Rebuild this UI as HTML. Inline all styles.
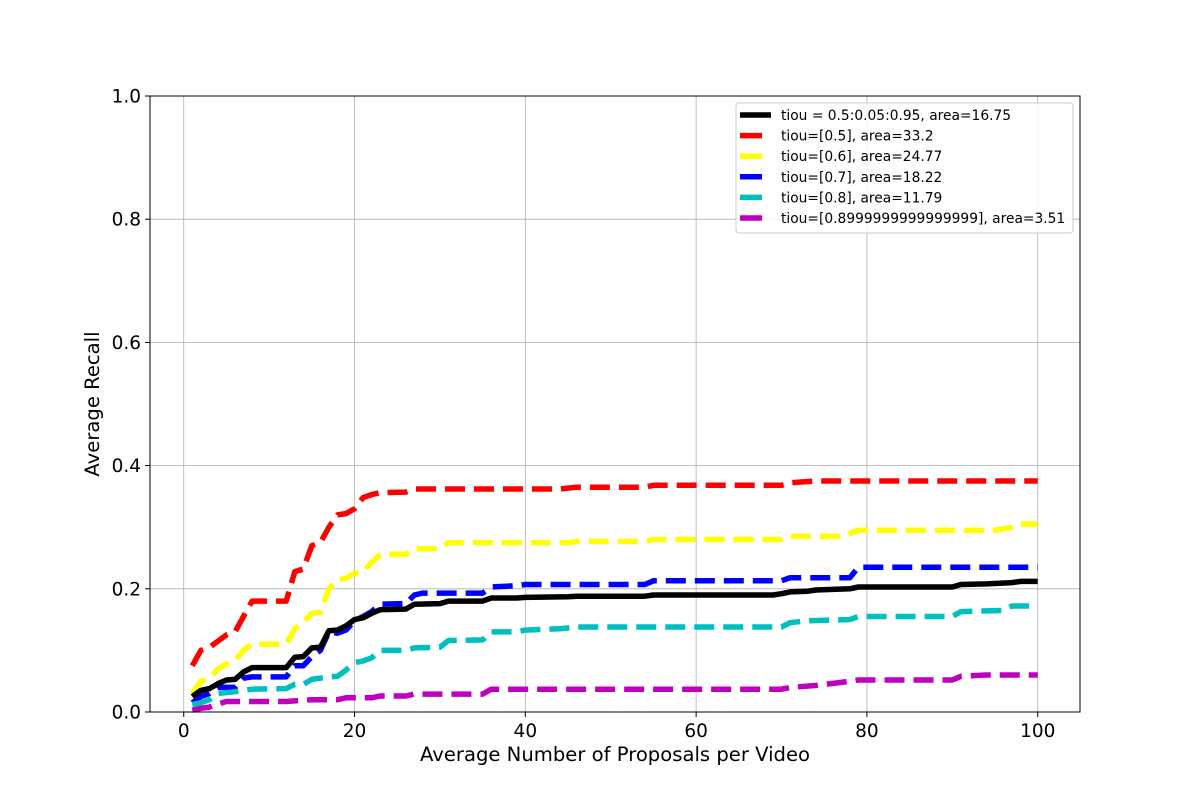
<!DOCTYPE html>
<html><head><meta charset="utf-8"><style>
html,body{margin:0;padding:0;background:#fff;}
svg{display:block;font-family:"DejaVu Sans","Liberation Sans",sans-serif;}
</style></head><body>
<svg id="chart" width="1200" height="800" viewBox="0 0 1200 800" xmlns="http://www.w3.org/2000/svg"></svg>
<script>
const xTicks=[0,20,40,60,80,100];
const yTicks=[0,0.2,0.4,0.6,0.8,1.0];
const yTickLabels=["0.0","0.2","0.4","0.6","0.8","1.0"];
const seriesNames=["tiou = 0.5:0.05:0.95, area=16.75","tiou=[0.5], area=33.2","tiou=[0.6], area=24.77","tiou=[0.7], area=18.22","tiou=[0.8], area=11.79","tiou=[0.8999999999999999], area=3.51"];
const blackX=[1,2,3,4,5,6,7,8,12,13,14,15,16,17,18,19,20,21,22,23,26,27,30,31,35,36,39,40,45,46,54,55,69,70,71,73,74,78,79,90,91,94,97,98,100];
const blackY=[0.025,0.035,0.038,0.046,0.052,0.053,0.065,0.072,0.072,0.089,0.09,0.104,0.105,0.132,0.133,0.14,0.15,0.153,0.16,0.166,0.167,0.175,0.176,0.18,0.18,0.185,0.185,0.186,0.187,0.188,0.188,0.19,0.19,0.192,0.195,0.196,0.198,0.2,0.203,0.203,0.207,0.208,0.21,0.212,0.212];
const redX=[1,2,3,4,5,6,7,8,12,13,14,15,16,17,18,19,20,21,22,23,26,27,44,46,54,55,70,71,74,100];
const redY=[0.075,0.1,0.105,0.115,0.125,0.13,0.155,0.18,0.18,0.228,0.232,0.27,0.275,0.3,0.32,0.322,0.33,0.348,0.353,0.356,0.357,0.362,0.362,0.365,0.365,0.368,0.368,0.372,0.375,0.375];
const yellowX=[1,2,3,4,5,6,7,8,12,13,14,15,16,17,18,19,20,21,22,23,26,27,30,31,45,46,54,55,70,71,77,78,79,95,97,98,100];
const yellowY=[0.03,0.05,0.055,0.07,0.078,0.083,0.1,0.11,0.11,0.135,0.145,0.16,0.162,0.2,0.215,0.217,0.225,0.228,0.243,0.255,0.256,0.265,0.265,0.275,0.275,0.277,0.277,0.28,0.28,0.285,0.285,0.29,0.295,0.295,0.3,0.305,0.305];
const blueX=[1,2,3,4,6,7,8,12,13,14,15,16,17,18,19,20,21,22,23,26,27,28,35,36,39,40,54,55,70,71,78,79,100];
const blueY=[0.015,0.025,0.03,0.04,0.04,0.055,0.057,0.057,0.075,0.075,0.09,0.1,0.13,0.128,0.133,0.148,0.155,0.163,0.175,0.176,0.19,0.193,0.193,0.203,0.205,0.207,0.207,0.213,0.213,0.218,0.218,0.235,0.235];
const cyanX=[1,2,3,4,6,7,8,12,13,14,15,16,17,18,19,20,21,22,23,26,27,30,31,35,36,39,40,44,46,70,71,73,78,79,90,91,96,97,100];
const cyanY=[0.012,0.015,0.02,0.03,0.033,0.035,0.037,0.038,0.045,0.045,0.053,0.055,0.057,0.058,0.068,0.08,0.083,0.088,0.1,0.1,0.104,0.105,0.116,0.117,0.13,0.13,0.133,0.135,0.138,0.138,0.145,0.148,0.15,0.155,0.155,0.163,0.165,0.172,0.172];
const magentaX=[1,2,3,4,5,12,15,18,19,22,23,26,27,35,36,70,71,74,77,79,90,91,94,100];
const magentaY=[0.003,0.006,0.008,0.013,0.017,0.017,0.02,0.02,0.023,0.023,0.026,0.026,0.029,0.029,0.037,0.037,0.04,0.043,0.048,0.052,0.052,0.058,0.06,0.06];

const L=150,R=1080,T=96,B=712,xmin=-3.95,xmax=104.95;
const sx=v=>L+(v-xmin)/(xmax-xmin)*(R-L);
const sy=v=>B-v*(B-T);
const svg=document.getElementById('chart');
const NS='http://www.w3.org/2000/svg';
function mk(tag,attrs,parent){const e=document.createElementNS(NS,tag);for(const k in attrs)e.setAttribute(k,attrs[k]);(parent||svg).appendChild(e);return e;}

const grid=mk('g',{});


xTicks.forEach(t=>{mk('line',{x1:sx(t),x2:sx(t),y1:T,y2:B,stroke:'#b0b0b0','stroke-width':0.8},grid);});
yTicks.forEach(t=>{mk('line',{x1:L,x2:R,y1:sy(t),y2:sy(t),stroke:'#b0b0b0','stroke-width':0.8},grid);});

const series=[
 {x:blackX,y:blackY,c:'#000000',dash:null,name:'series-black'},
 {x:redX,y:redY,c:'#ff0000',dash:'20 9',name:'series-red'},
 {x:yellowX,y:yellowY,c:'#ffff00',dash:'20 9',name:'series-yellow'},
 {x:blueX,y:blueY,c:'#0000ff',dash:'20 9',name:'series-blue'},
 {x:cyanX,y:cyanY,c:'#00bfbf',dash:'20 9',name:'series-cyan'},
 {x:magentaX,y:magentaY,c:'#bf00bf',dash:'20 9',name:'series-magenta'}
];
const order=[1,2,3,4,5,0];
order.forEach(i=>{const s=series[i];
 const d=s.x.map((v,j)=>(j?'L':'M')+sx(v).toFixed(1)+','+sy(s.y[j]).toFixed(1)).join(' ');
 const p=mk('path',{d:d,fill:'none',stroke:s.c,'stroke-width':5.5,'stroke-linejoin':'round'});
 if(s.dash)p.setAttribute('stroke-dasharray',s.dash);
 
 
});

const frame=mk('rect',{x:L,y:T,width:R-L,height:B-T,fill:'none',stroke:'#000','stroke-width':1});



xTicks.forEach(t=>{mk('line',{x1:sx(t),x2:sx(t),y1:B,y2:B+5,stroke:'#000'});
 const tx=mk('text',{x:sx(t),y:B+25,'text-anchor':'middle','font-size':18.5});tx.textContent=t;
 
 });
yTicks.forEach((t,i)=>{mk('line',{x1:L-5,x2:L,y1:sy(t),y2:sy(t),stroke:'#000'});
 const tx=mk('text',{x:L-9,y:sy(t)+6.5,'text-anchor':'end','font-size':18.5});tx.textContent=yTickLabels[i];
 
 });

const xt=mk('text',{x:615,y:761,'text-anchor':'middle','font-size':19.6});xt.textContent='Average Number of Proposals per Video';


const yt=mk('text',{x:99,y:404,'text-anchor':'middle','font-size':19.6,transform:'rotate(-90 99 404)'});yt.textContent='Average Recall';



const lg=mk('g',{});


mk('rect',{x:736,y:103,width:337,height:130,rx:3,fill:'#fff','fill-opacity':0.85,stroke:'#cccccc'},lg);
seriesNames.forEach((n,i)=>{const y=115+i*20.6;const s=series[i];
 mk('line',{x1:740,x2:i?762:771,y1:y,y2:y,stroke:s.c,'stroke-width':5.5},lg);
 const t=mk('text',{x:781,y:y+5,'font-size':13.8},lg);t.textContent=n;
 
 });
</script>
</body></html>
